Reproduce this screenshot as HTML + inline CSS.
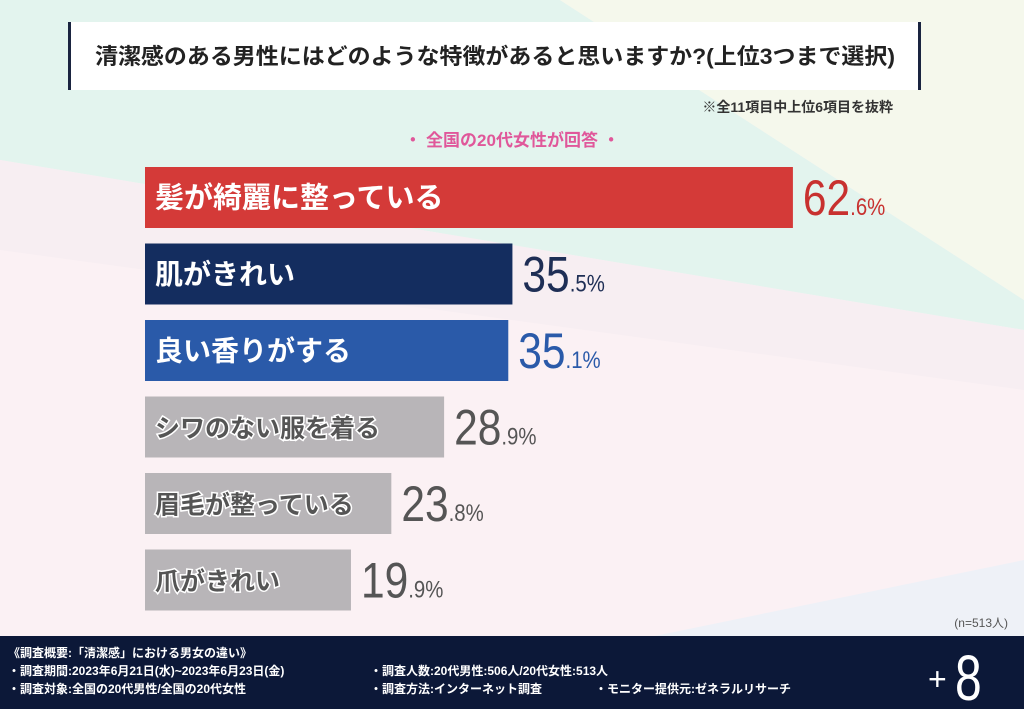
<!DOCTYPE html>
<html><head><meta charset="utf-8">
<style>
html,body{margin:0;padding:0;width:1024px;height:709px;overflow:hidden;}
body{font-family:"Liberation Sans","Noto Sans CJK JP",sans-serif;}
svg text{font-family:"Liberation Sans","Noto Sans CJK JP",sans-serif;}
</style></head>
<body>
<svg id="chart" width="1024" height="709" viewBox="0 0 1024 709">
  <rect x="0" y="0" width="1024" height="709" fill="#fbf1f4"/>
  <polygon points="0,0 560,0 1024,300 1024,330 0,160" fill="#e3f4ee"/>
  <polygon points="560,0 1024,0 1024,300" fill="#f5f8ec"/>
  <polygon points="0,160 1024,330 1024,390 0,250" fill="#f7eef2"/>
  <polygon points="300,709 1024,560 1024,709" fill="#eef1f7"/>
  <rect x="70" y="22" width="850" height="68" fill="#ffffff"/>
  <rect x="68" y="22" width="3" height="68" fill="#1a2440"/>
  <rect x="918" y="22" width="3" height="68" fill="#1a2440"/>
  <text x="95" y="64" font-size="22" font-weight="bold" fill="#222" textLength="800" lengthAdjust="spacingAndGlyphs">清潔感のある男性にはどのような特徴があると思いますか?(上位3つまで選択)</text>
  <text x="893" y="112" text-anchor="end" font-size="14" font-weight="bold" fill="#333">※全11項目中上位6項目を抜粋</text>
  <text x="512" y="146" text-anchor="middle" font-size="17" font-weight="bold" fill="#e0579a">・ 全国の20代女性が回答 ・</text>
  <g id="bars"></g>
  <text x="1008" y="627" text-anchor="end" font-size="12" fill="#555">(n=513人)</text>
  <rect x="0" y="636" width="1024" height="73" fill="#0c1838"/>
  <g font-size="12" font-weight="bold" fill="#ffffff">
    <text x="8" y="657">《調査概要:「清潔感」における男女の違い》</text>
    <text x="8" y="675">・調査期間:2023年6月21日(水)~2023年6月23日(金)</text>
    <text x="8" y="693">・調査対象:全国の20代男性/全国の20代女性</text>
    <text x="370" y="675">・調査人数:20代男性:506人/20代女性:513人</text>
    <text x="370" y="693">・調査方法:インターネット調査</text>
    <text x="595" y="693">・モニター提供元:ゼネラルリサーチ</text>
  </g>
  <text x="928" y="690" font-size="32" fill="#ffffff">+</text>
  <text x="955" y="700" font-size="64" fill="#ffffff" font-family="Liberation Serif, serif" transform="translate(955,700) scale(0.75,1) translate(-955,-700)">8</text>
</svg>
<script>
const categories = ["髪が綺麗に整っている","肌がきれい","良い香りがする","シワのない服を着る","眉毛が整っている","爪がきれい"];
const values = [62.6, 35.5, 35.1, 28.9, 23.8, 19.9];
const intLabels = ["62","35","35","28","23","19"];
const decLabels = [".6%",".5%",".1%",".9%",".8%",".9%"];
const barColors = ["#d43a38","#142d5f","#2a5aa9","#b8b5b8","#b8b5b8","#b8b5b8"];
const labelColors = ["#c8312f","#1e2e55","#2a5aa9","#555555","#555555","#555555"];

const NS = "http://www.w3.org/2000/svg";
const x0 = 145, pxPerPct = 10.35;
function xScale(v){ return x0 + v * pxPerPct; }
function yScale(i){ return 167 + i * 76.5; }
const barH = 61;
const g = document.getElementById("bars");
categories.forEach((c, i) => {
  const y = yScale(i), xe = xScale(values[i]);
  const r = document.createElementNS(NS, "rect");
  r.setAttribute("x", x0); r.setAttribute("y", y);
  r.setAttribute("width", xe - x0); r.setAttribute("height", barH);
  r.setAttribute("fill", barColors[i]);
  
  
  g.appendChild(r);
  const t = document.createElementNS(NS, "text");
  t.setAttribute("x", x0 + 10); t.setAttribute("y", y + barH / 2 + 10);
  t.setAttribute("font-size", i === 0 ? "29" : (i < 3 ? "28" : "25"));
  t.setAttribute("font-weight", "bold");
  t.setAttribute("fill", i < 3 ? "#ffffff" : "#555555");
  t.setAttribute("stroke", i < 3 ? "none" : "#ffffff");
  t.setAttribute("stroke-width", "3");
  t.setAttribute("paint-order", "stroke");
  t.textContent = c;
  
  
  g.appendChild(t);
  const v = document.createElementNS(NS, "text");
  const vx = xe + 10, vy = y + 48;
  v.setAttribute("x", vx); v.setAttribute("y", vy);
  v.setAttribute("fill", labelColors[i]);
  v.setAttribute("transform", `translate(${vx},${vy}) scale(0.85,1) translate(${-vx},${-vy})`);
  const s1 = document.createElementNS(NS, "tspan");
  s1.setAttribute("font-size", "50");
  s1.textContent = intLabels[i];
  const s2 = document.createElementNS(NS, "tspan");
  s2.setAttribute("font-size", "24");
  s2.textContent = decLabels[i];
  v.appendChild(s1); v.appendChild(s2);
  
  
  g.appendChild(v);
});
</script>
</body></html>
